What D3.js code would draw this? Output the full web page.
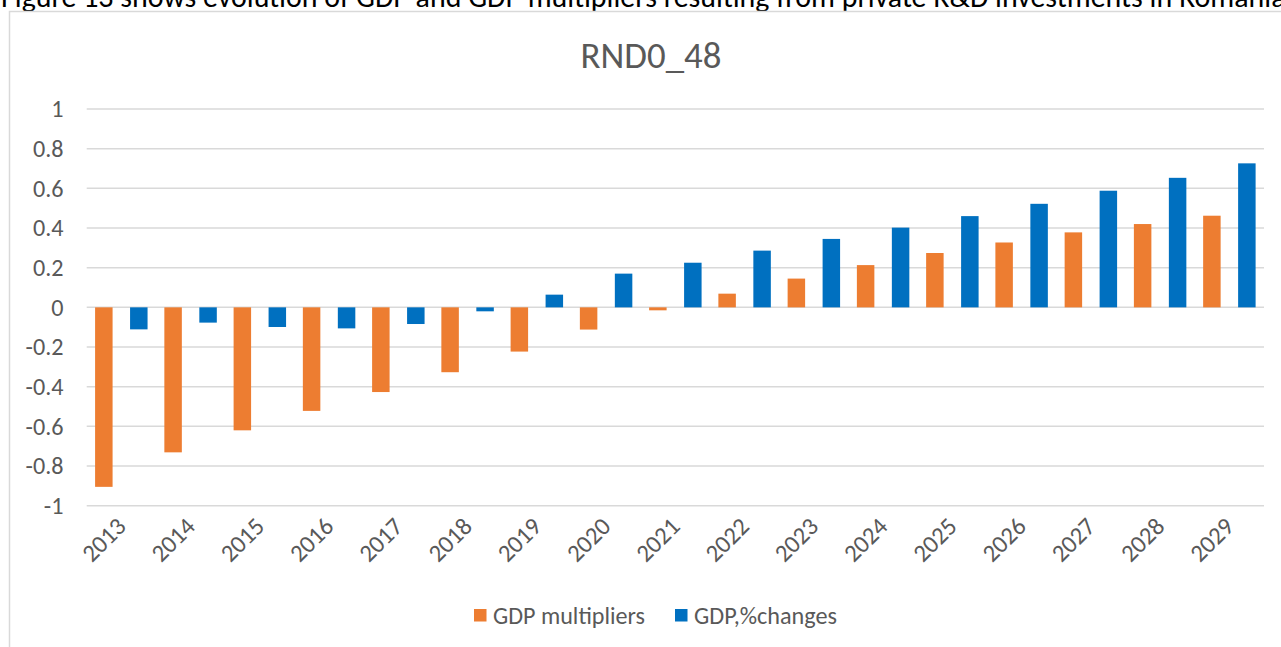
<!DOCTYPE html>
<html>
<head>
<meta charset="utf-8">
<script src="https://cdn.jsdelivr.net/npm/d3@7"></script>
<style>
  html, body { margin: 0; padding: 0; background: #fff; overflow: hidden; }
  svg { display: block; }
  text { font-family: Carlito, Calibri, Lato, "Noto Sans", sans-serif; }
</style>
</head>
<body>
<svg id="chart" width="1281" height="647"></svg>
<script>
// ---- data ----
const years = ["2013","2014","2015","2016","2017","2018","2019","2020","2021","2022","2023","2024","2025","2026","2027","2028","2029"];
const gdpMultipliers = [-0.905,-0.731,-0.620,-0.522,-0.427,-0.327,-0.223,-0.112,-0.015,0.069,0.145,0.213,0.274,0.327,0.378,0.420,0.462];
const gdpChanges = [-0.111,-0.077,-0.099,-0.106,-0.084,-0.020,0.064,0.170,0.225,0.286,0.345,0.402,0.460,0.522,0.588,0.653,0.726];
const yTicks = [1,0.8,0.6,0.4,0.2,0,-0.2,-0.4,-0.6,-0.8,-1];
const seriesNames = ["GDP multipliers","GDP,%changes"];
const seriesColors = ["#ED7D31","#0070C0"];
const chartTitle = "RND0_48";
const caption = "Figure 13 shows evolution of GDP and GDP multipliers resulting from private R&D investments in Romania.";

const svg = d3.select("#chart");
const W = 1281, H = 647;

function fit(sel, target) {
  const node = sel.node();
  const fs = parseFloat(sel.attr("font-size"));
  const w = node.getComputedTextLength();
  if (w > 0) sel.attr("font-size", (fs * target / w).toFixed(2));
  return sel;
}

// caption (document text above chart, clipped at top)
fit(svg.append("text").attr("x", 1).attr("y", 7).attr("font-size", 22)
  .attr("fill", "#000").text(caption), 1292);

// chart frame
svg.append("rect").attr("x", 9.5).attr("y", 11.5).attr("width", W + 20).attr("height", H + 20)
  .attr("fill", "none").attr("stroke", "#D9D9D9").attr("stroke-width", 1.5);

// scales
const plotL = 86.7, plotR = 1264, yTop = 109, yBot = 505.7;
const x = d3.scaleBand().domain(years).range([plotL, plotR]).paddingInner(0).paddingOuter(0);
const x1 = d3.scaleBand().domain([0,1]).range([0, x.bandwidth()]).paddingInner(0.5).paddingOuter(0.24);
const y = d3.scaleLinear().domain([-1, 1]).range([yBot, yTop]);

// gridlines
svg.append("g").selectAll("line").data(yTicks).join("line")
  .attr("x1", plotL).attr("x2", plotR)
  .attr("y1", d => y(d)).attr("y2", d => y(d))
  .attr("stroke", "#D9D9D9").attr("stroke-width", 1.5);

// y axis labels
const fmt = d => String(+d.toFixed(1));
const yl = svg.append("g").selectAll("text").data(yTicks).join("text")
  .attr("x", 63.5).attr("y", d => y(d)).attr("dy", "0.35em")
  .attr("text-anchor", "end").attr("fill", "#595959").attr("font-size", 22)
  .text(fmt);
{
  const ref = yl.filter(d => d === -0.8);
  const w = ref.node().getComputedTextLength();
  yl.attr("font-size", (22 * 38 / w).toFixed(2));
}

// bars
const series = [gdpMultipliers, gdpChanges];
series.forEach((vals, si) => {
  svg.append("g").selectAll("rect").data(years).join("rect")
    .attr("x", d => x(d) + x1(si))
    .attr("width", x1.bandwidth())
    .attr("y", (d, i) => y(Math.max(0, vals[i])))
    .attr("height", (d, i) => Math.abs(y(vals[i]) - y(0)))
    .attr("fill", seriesColors[si]);
});

// x labels
const xl = svg.append("g").selectAll("text").data(years).join("text")
  .attr("text-anchor", "end").attr("fill", "#595959").attr("font-size", 22)
  .attr("transform", d => `translate(${x(d) + x.bandwidth()/2 + 6},${528}) rotate(-45)`)
  .text(d => d);
{
  const w = xl.node().getComputedTextLength();
  xl.attr("font-size", (22 * 50 / w).toFixed(2));
}

// title
fit(svg.append("text").attr("x", 651).attr("y", 68).attr("text-anchor", "middle")
  .attr("fill", "#595959").attr("font-size", 34).text(chartTitle), 141);

// legend
const legX = [474, 675], legTextW = [152, 143];
seriesNames.forEach((name, i) => {
  svg.append("rect").attr("x", legX[i]).attr("y", 609).attr("width", 12.5).attr("height", 12.5)
    .attr("fill", seriesColors[i]);
  fit(svg.append("text").attr("x", legX[i] + 19).attr("y", 615.5).attr("dy", "0.35em")
    .attr("fill", "#595959").attr("font-size", 22).text(name), legTextW[i]);
});
</script>
</body>
</html>
